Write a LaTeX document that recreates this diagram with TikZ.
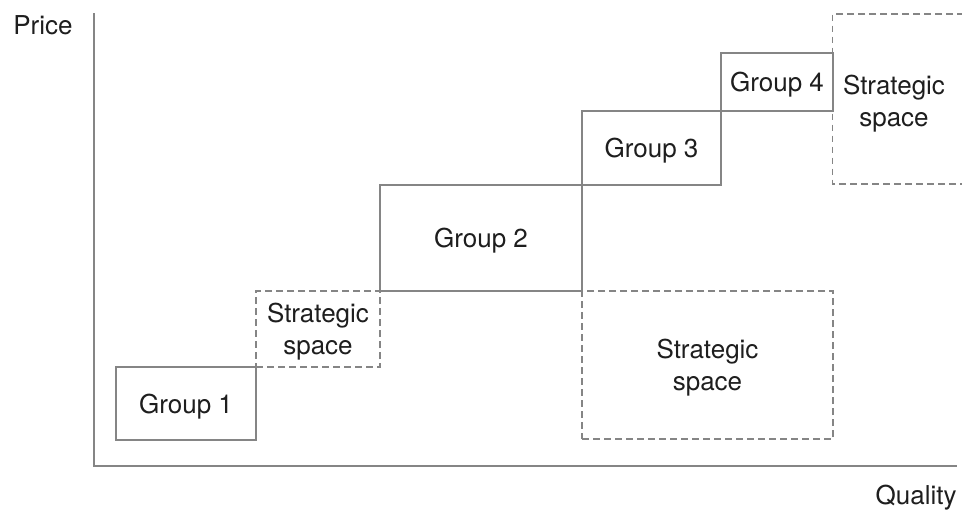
\documentclass[tikz,border=0pt]{standalone}
\usepackage{fontspec}
\setmainfont{TeX Gyre Heros}
\definecolor{linegray}{HTML}{858585}
\definecolor{textgray}{HTML}{1E1E1E}
\begin{document}
\begin{tikzpicture}[x=0.5pt,y=-0.5pt,
  every node/.style={font=\fontsize{13}{16}\selectfont, text=textgray, inner sep=0pt, align=center},
  solidbox/.style={draw=linegray, line width=0.7pt, text depth=0pt},
  dashbox/.style={draw=linegray, line width=0.7pt, dash pattern=on 3.3pt off 2.2pt, text depth=0pt},
  axis/.style={draw=linegray, line width=0.7pt}]
\useasboundingbox (0,0) rectangle (962,516);
% axes
\coordinate (ytop) at (94,13);
\coordinate (orig) at (94,466);
\coordinate (xend) at (957,466);
\draw[axis] (ytop) -- (orig) -- (xend);
\node[anchor=base west] (price) at (13,34) {Price};
\node[anchor=base east] (quality) at (957,504) {Quality};
% strategic spaces (dashed)
\node[dashbox, minimum width=62pt, minimum height=38pt] (ss1) at (318,329) {Strategic\\space};
\node[dashbox, minimum width=125.5pt, minimum height=74pt] (ss2) at (707.5,365) {Strategic\\space};
\coordinate (s3a) at (964,14);
\coordinate (s3b) at (832.5,14);
\coordinate (s3c) at (832.5,184);
\coordinate (s3d) at (964,184);
\draw[draw=linegray, line width=0.7pt, dash pattern=on 3.3pt off 2.2pt] (s3a) -- (s3b) -- (s3c) -- (s3d);
\node[text depth=0pt] (ss3) at (894,101) {Strategic\\space};
% groups (solid)
\node[solidbox, minimum width=70pt, minimum height=36.5pt] (g1) at (186,403.5) {Group 1};
\node[solidbox, minimum width=101pt, minimum height=53pt] (g2) at (481,238) {Group 2};
\node[solidbox, minimum width=69.5pt, minimum height=37pt] (g3) at (651.5,148) {Group 3};
\node[solidbox, minimum width=56pt, minimum height=29pt] (g4) at (777,82) {Group 4};
\end{tikzpicture}
\end{document}
